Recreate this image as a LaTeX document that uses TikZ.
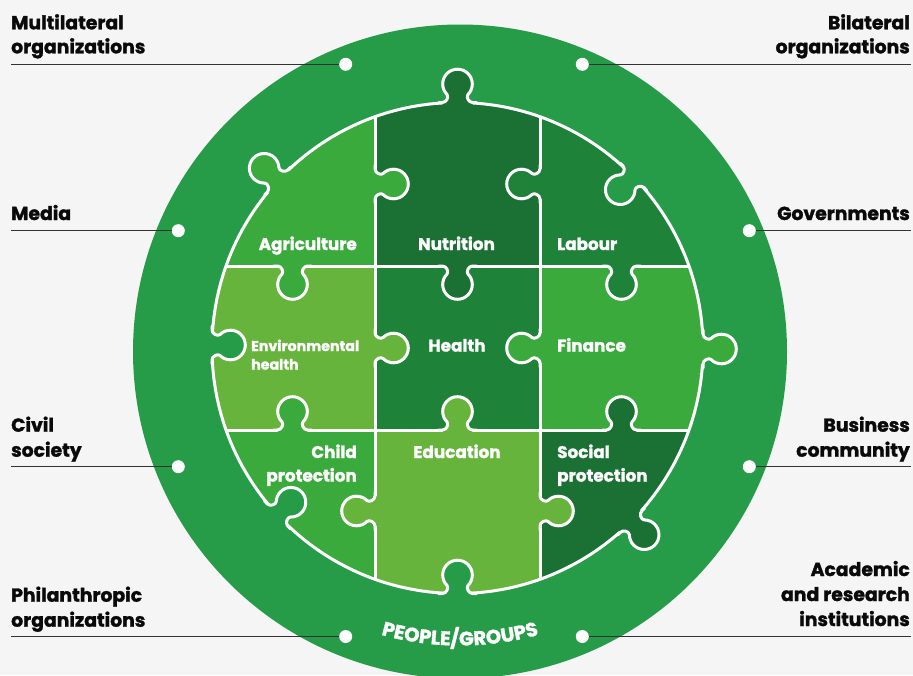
\documentclass[tikz,border=0pt]{standalone}
\usepackage{fontspec}
\setmainfont{Poppins}[BoldFeatures={FakeBold=1.6}]
\usetikzlibrary{decorations.text}
\definecolor{bg}{HTML}{F5F5F5}
\definecolor{ring}{HTML}{269C48}
\definecolor{pLight}{HTML}{3BAA3C}
\definecolor{pDark}{HTML}{1B7034}
\definecolor{pMid}{HTML}{1E8238}
\definecolor{pLime}{HTML}{67B43D}
\definecolor{ink}{HTML}{0A0A0A}
\definecolor{rulec}{HTML}{333333}
\tikzset{
  wline/.style={draw=white, line width=3pt, line cap=round, line join=round},
  knob/.pic={
    \fill[#1] (-15,-3) -- (-15,0) .. controls (-11,0) and (-8.4,5.9) .. (-10.47,8.03)
      arc[start angle=225, end angle=-45, radius=14.8]
      .. controls (8.4,5.9) and (11,0) .. (15,0) -- (15,-3) -- cycle;
    \draw[wline] (-19,0) -- (-15,0) .. controls (-11,0) and (-8.4,5.9) .. (-10.47,8.03)
      arc[start angle=225, end angle=-45, radius=14.8]
      .. controls (8.4,5.9) and (11,0) .. (15,0) -- (19,0);
  },
  lblL/.style={anchor=base west, inner sep=0pt, font=\bfseries\fontsize{18.8}{18.8}\selectfont, text=ink},
  lblR/.style={anchor=base east, inner sep=0pt, font=\bfseries\fontsize{18.8}{18.8}\selectfont, text=ink},
  pz/.style={inner sep=0pt, font=\bfseries\fontsize{16.8}{16.8}\selectfont, text=white},
  pzs/.style={inner sep=0pt, font=\bfseries\fontsize{14.2}{14.2}\selectfont, text=white},
  dotc/.style={circle, fill=white, minimum size=13pt, inner sep=0pt},
  conn/.style={draw=rulec, line width=1.3pt},
}
\begin{document}
\begin{tikzpicture}[x=1pt, y=-1pt]
\useasboundingbox (0,0) rectangle (913,675);
\fill[bg] (0,0) rectangle (913,675);
\fill[ring] (460,351.5) circle[radius=327];
% puzzle cells
\begin{scope}
\clip (457.5,348) circle[radius=245.5];
\fill[pLight] (150,50) rectangle (375,266);
\fill[pDark] (375,50) rectangle (540,266);
\fill[pMid] (540,50) rectangle (760,266);
\fill[pLime] (150,266) rectangle (375,430);
\fill[pMid] (375,266) rectangle (540,430);
\fill[pLight] (540,266) rectangle (760,430);
\fill[pLight] (150,430) rectangle (375,650);
\fill[pLime] (375,430) rectangle (540,650);
\fill[pDark] (540,430) rectangle (760,650);
\draw[wline] (375,50) -- (375,650) (540,50) -- (540,650) (150,266) -- (760,266) (150,430) -- (760,430);
\end{scope}
\draw[wline] (457.5,348) circle[radius=245.5];
% perimeter knobs
\pic[rotate=180] (kTop) at (457.5,102.5) {knob=pDark};
\pic[rotate=227] (kAgr) at (277.7,180.9) {knob=pLight};
\pic[rotate=314.2] (kLab) at (633.5,176.8) {knob=ring};
\pic[rotate=90] (kRig) at (703,349) {knob=pLight};
\pic[rotate=90] (kLef) at (212,345) {knob=ring};
\pic[rotate=132.8] (kChi) at (277.4,514.8) {knob=ring};
\pic[rotate=180] (kBot) at (457.5,593.5) {knob=ring};
\pic[rotate=45] (kSoc) at (631.1,521.6) {knob=pDark};
% internal knobs
\pic[rotate=90] (k1) at (375,184) {knob=pLight};
\pic[rotate=-90] (k2) at (540,184) {knob=pMid};
\pic[rotate=0] (k3) at (292.5,266) {knob=pLight};
\pic[rotate=0] (k4) at (457.5,266) {knob=pDark};
\pic[rotate=0] (k5) at (621.5,266) {knob=pMid};
\pic[rotate=90] (k6) at (375,348) {knob=pLime};
\pic[rotate=-90] (k7) at (540,348) {knob=pLight};
\pic[rotate=180] (k8) at (292.5,430) {knob=pLight};
\pic[rotate=180] (k9) at (457.5,430) {knob=pLime};
\pic[rotate=180] (k10) at (621.5,430) {knob=pDark};
\pic[rotate=-90] (k11) at (375,511) {knob=pLime};
\pic[rotate=90] (k12) at (540,511) {knob=pLime};
% piece labels
\node[pz, anchor=base east] (agri) at (357,250) {Agriculture};
\node[pz, anchor=base] (nutr) at (456.5,250) {Nutrition};
\node[pz, anchor=base west] (lab) at (557,250) {Labour};
\node[pzs, anchor=base west] (env1) at (251,351) {Environmental};
\node[pzs, anchor=base west] (env2) at (251,369.5) {health};
\node[pz, anchor=base] (hea) at (457,351.5) {Health};
\node[pz, anchor=base west] (fin) at (557,351.5) {Finance};
\node[pz, anchor=base east] (ch1) at (357,458) {Child};
\node[pz, anchor=base east] (ch2) at (357,481.5) {protection};
\node[pz, anchor=base] (edu) at (457,458) {Education};
\node[pz, anchor=base west] (so1) at (557,458) {Social};
\node[pz, anchor=base west] (so2) at (557,481.5) {protection};
% curved label
\path[postaction={decorate, decoration={text along path, text align=center, text color=white,
  text={|\bfseries\fontsize{19.5}{19.5}\selectfont|PEOPLE/GROUPS}}}]
  ([shift={(460,351.5)}]125:294) arc[start angle=125, end angle=55, radius=294];
% outer labels and connectors
\coordinate (eML) at (11,64.3);
\coordinate (eMe) at (11,230.7);
\coordinate (eCi) at (11,466.7);
\coordinate (ePh) at (11,636.5);
\coordinate (eBi) at (911,64.3);
\coordinate (eGo) at (911,230.7);
\coordinate (eBu) at (911,466.7);
\coordinate (eAc) at (911,636.5);
\coordinate (pML) at (345.7,64.3);
\coordinate (pMe) at (178.3,230.7);
\coordinate (pCi) at (178.3,466.7);
\coordinate (pPh) at (345.7,636.5);
\coordinate (pBi) at (582.3,64.3);
\coordinate (pGo) at (749.3,230.7);
\coordinate (pBu) at (749.3,466.7);
\coordinate (pAc) at (582.3,636.5);
\draw[conn] (eML) -- (pML);
\draw[conn] (eMe) -- (pMe);
\draw[conn] (eCi) -- (pCi);
\draw[conn] (ePh) -- (pPh);
\draw[conn] (eBi) -- (pBi);
\draw[conn] (eGo) -- (pGo);
\draw[conn] (eBu) -- (pBu);
\draw[conn] (eAc) -- (pAc);
\node[dotc] (dML) at (pML) {};
\node[dotc] (dMe) at (pMe) {};
\node[dotc] (dCi) at (pCi) {};
\node[dotc] (dPh) at (pPh) {};
\node[dotc] (dBi) at (pBi) {};
\node[dotc] (dGo) at (pGo) {};
\node[dotc] (dBu) at (pBu) {};
\node[dotc] (dAc) at (pAc) {};
\node[lblL] (ml1) at (11,29.3) {Multilateral};
\node[lblL] (ml2) at (11,53.3) {organizations};
\node[lblL] (me1) at (11,220) {Media};
\node[lblL] (ci1) at (11,431.7) {Civil};
\node[lblL] (ci2) at (11,456.7) {society};
\node[lblL] (ph1) at (11,601.7) {Philanthropic};
\node[lblL] (ph2) at (11,626.7) {organizations};
\node[lblR] (bi1) at (910,29.3) {Bilateral};
\node[lblR] (bi2) at (910,53.3) {organizations};
\node[lblR] (go1) at (910,220) {Governments};
\node[lblR] (bu1) at (910,431.7) {Business};
\node[lblR] (bu2) at (910,456.7) {community};
\node[lblR] (ac1) at (910,576) {Academic};
\node[lblR] (ac2) at (910,601) {and research};
\node[lblR] (ac3) at (910,626) {institutions};
\end{tikzpicture}
\end{document}
